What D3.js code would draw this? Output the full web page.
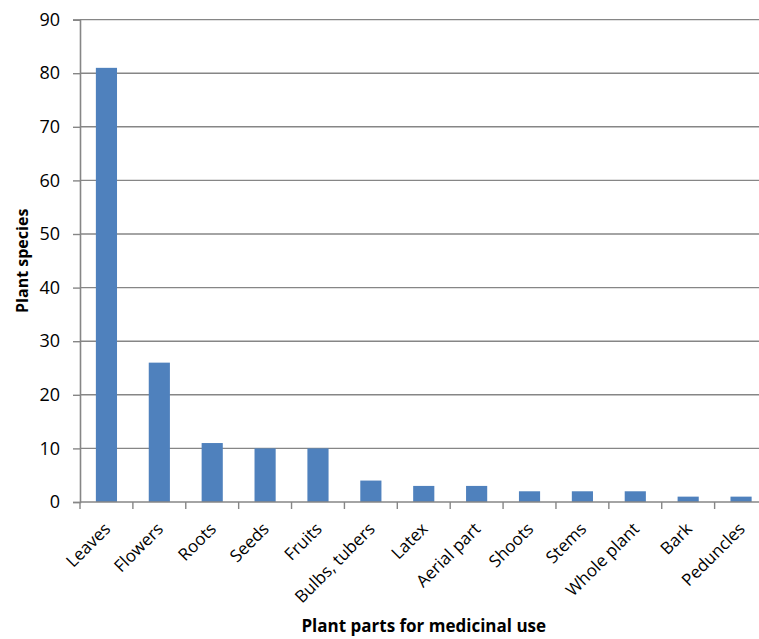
<!DOCTYPE html>
<html>
<head>
<meta charset="utf-8">
<script src="https://cdn.jsdelivr.net/npm/d3@7"></script>
<style>
  html, body { margin: 0; padding: 0; background: #fff; }
  svg { display: block; font-family: "Open Sans", "Liberation Sans", sans-serif; }
</style>
</head>
<body>
<svg id="chart" width="759" height="639"></svg>
<script>
// Plant parts used in traditional medicine, number of species per part
const parts = ["Leaves", "Flowers", "Roots", "Seeds", "Fruits", "Bulbs, tubers", "Latex",
  "Aerial part", "Shoots", "Stems", "Whole plant", "Bark", "Peduncles"];
const species = [81, 26, 11, 10, 10, 4, 3, 3, 2, 2, 2, 1, 1];
const yTicks = [0, 10, 20, 30, 40, 50, 60, 70, 80, 90];

const svg = d3.select("#chart");
const plotLeft = 80, plotRight = 767.5, plotTop = 19.6, plotBottom = 502;

const x = d3.scaleBand().domain(parts).range([plotLeft, plotRight]).paddingInner(0.6).paddingOuter(0.3);
const xEdges = d3.scaleBand().domain(parts).range([plotLeft, plotRight]).padding(0);
const y = d3.scaleLinear().domain([0, 90]).range([plotBottom, plotTop]);

const grid = "#868686";

// horizontal gridlines
svg.append("g").selectAll("line").data(yTicks.filter(d => d > 0)).join("line")
  .attr("x1", plotLeft).attr("x2", plotRight)
  .attr("y1", d => y(d)).attr("y2", d => y(d))
  .attr("stroke", grid).attr("stroke-width", 1.4);

// bars
svg.append("g").selectAll("rect").data(parts).join("rect")
  .attr("x", d => x(d))
  .attr("width", x.bandwidth())
  .attr("y", (d, i) => y(species[i]))
  .attr("height", (d, i) => plotBottom - y(species[i]))
  .attr("fill", "#4F81BD");

// y axis
const yAxis = svg.append("g").attr("transform", `translate(${plotLeft},0)`)
  .call(d3.axisLeft(y).tickValues(yTicks).tickSize(7).tickPadding(13));
yAxis.select(".domain").attr("stroke", grid).attr("stroke-width", 1.6);
yAxis.selectAll(".tick line").attr("stroke", grid).attr("stroke-width", 1.4);
yAxis.selectAll(".tick text").attr("font-size", 18).attr("fill", "#000")
  .attr("font-family", "'Open Sans', 'Liberation Sans', sans-serif");

// x axis with ticks between categories
const xAxis = svg.append("g").attr("transform", `translate(0,${plotBottom})`);
xAxis.append("line").attr("x1", plotLeft).attr("x2", plotRight).attr("y1", 0).attr("y2", 0)
  .attr("stroke", grid).attr("stroke-width", 1.6);
xAxis.selectAll("line.tk").data(parts).join("line").attr("class", "tk")
  .attr("x1", d => xEdges(d)).attr("x2", d => xEdges(d))
  .attr("y1", 0).attr("y2", 7)
  .attr("stroke", grid).attr("stroke-width", 1.4);
xAxis.selectAll("text").data(parts).join("text")
  .attr("transform", d => `translate(${x(d) + x.bandwidth() / 2 + 5},${28}) rotate(-45)`)
  .attr("text-anchor", "end")
  .attr("font-size", 17)
  .attr("fill", "#000")
  .text(d => d);

// axis titles
svg.append("text")
  .attr("x", (plotLeft + plotRight) / 2).attr("y", 632)
  .attr("text-anchor", "middle").attr("font-size", 17).attr("font-weight", "bold")
  .text("Plant parts for medicinal use");
svg.append("text")
  .attr("transform", `translate(28,${(plotTop + plotBottom) / 2}) rotate(-90)`)
  .attr("text-anchor", "middle").attr("font-size", 16).attr("font-weight", "bold")
  .text("Plant species");
</script>
</body>
</html>
